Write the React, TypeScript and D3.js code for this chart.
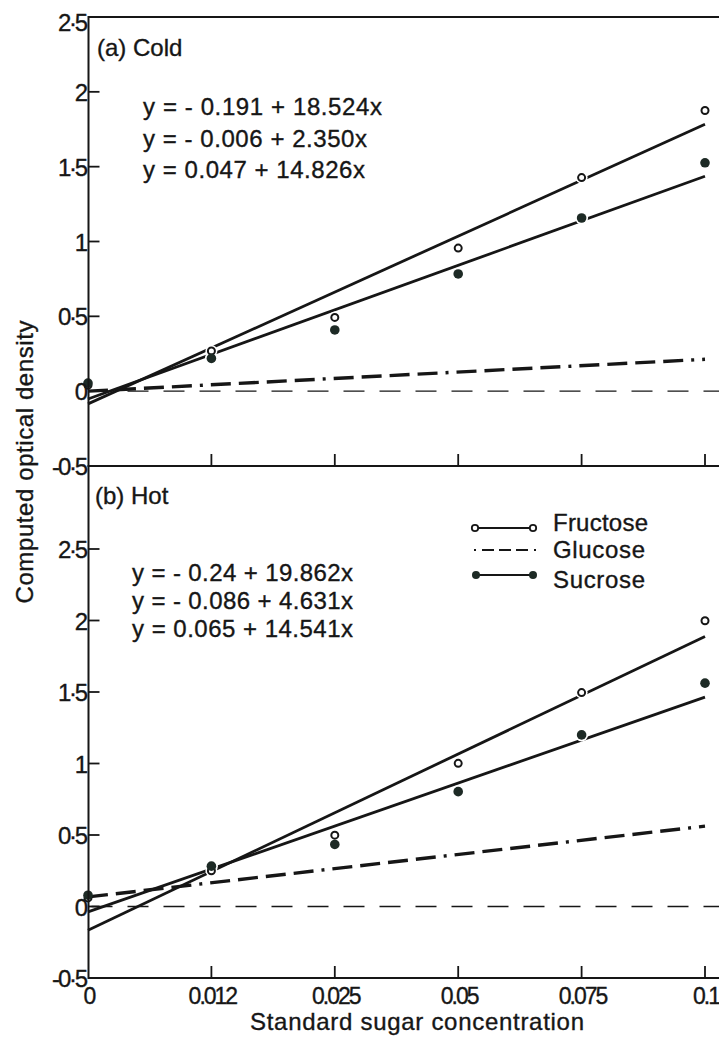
import React from "react";
import * as d3 from "d3";

// ---------- data ----------
const concentrations = ["0", "0.012", "0.025", "0.05", "0.075", "0.1"];
const xTickLabels = ["0", "0.012", "0.025", "0.05", "0.075", "0.1"];
const yTicks = [-0.5, 0, 0.5, 1, 1.5, 2, 2.5];
const yTickLabels = ["-0·5", "0", "0·5", "1", "1·5", "2", "2·5"];

// observed points (computed optical density)
const coldFructose = [0.04, 0.268, 0.493, 0.956, 1.427, 1.875];
const coldSucrose = [0.054, 0.219, 0.409, 0.783, 1.157, 1.526];
const hotFructose = [0.06, 0.25, 0.499, 1.001, 1.496, 1.998];
const hotSucrose = [0.079, 0.282, 0.434, 0.803, 1.2, 1.562];

// fitted lines: value at first and last concentration
const coldFructoseFit = [-0.085, 1.783];
const coldSucroseFit = [-0.052, 1.436];
const coldGlucoseFit = [0.0, 0.213];
const hotFructoseFit = [-0.166, 1.888];
const hotSucroseFit = [-0.038, 1.464];
const hotGlucoseFit = [0.067, 0.562];

const coldEquations = ["y = - 0.191 + 18.524x", "y = - 0.006 + 2.350x", "y = 0.047 + 14.826x"];
const hotEquations = ["y = - 0.24 + 19.862x", "y = - 0.086 + 4.631x", "y = 0.065 + 14.541x"];

const legendItems = ["Fructose", "Glucose", "Sucrose"];

// ---------- layout ----------
const W = 719;
const H = 1037;
const FONT = "'Liberation Sans', Arial, Helvetica, sans-serif";
const INK = "#161616";
const DOT = "#1d2a25";
const AXIS_X = 88.5;
const EDGE = 719;
const FS = 24;
const TXT_STROKE = 0.35;

const x = d3.scalePoint<string>().domain(concentrations).range([88, 705]);

const panels = [
  {
    label: "(a) Cold",
    labelPos: [97, 56],
    top: 17,
    y: d3.scaleLinear().domain([-0.5, 2.5]).range([466, 17]),
    fructose: coldFructose,
    sucrose: coldSucrose,
    fFit: coldFructoseFit,
    sFit: coldSucroseFit,
    gFit: coldGlucoseFit,
    eq: coldEquations,
    eqX: 143,
    eqY: [115, 146.5, 178],
    eqLen: [239, 224, 222],
    border: true,
  },
  {
    label: "(b) Hot",
    labelPos: [95, 504],
    top: 466,
    y: d3.scaleLinear().domain([-0.5, 2.5]).range([978, 549]),
    fructose: hotFructose,
    sucrose: hotSucrose,
    fFit: hotFructoseFit,
    sFit: hotSucroseFit,
    gFit: hotGlucoseFit,
    eq: hotEquations,
    eqX: 132,
    eqY: [581, 609, 637],
    eqLen: [221, 221, 221],
    border: false,
  },
];

const GLUCOSE_DASH = "20,8,20,8,20,8,20,8,3,8";

function fitLine(y: d3.ScaleLinear<number, number>, fit: number[]) {
  const pts: [number, number][] = [
    [x(concentrations[0])!, y(fit[0])],
    [x(concentrations[concentrations.length - 1])!, y(fit[1])],
  ];
  return d3.line()(pts) || "";
}

const textProps = { fill: INK, stroke: INK, strokeWidth: TXT_STROKE };

export default function App() {
  return (
    <svg
      width={W}
      height={H}
      viewBox={`0 0 ${W} ${H}`}
      style={{ position: "absolute", left: 0, top: 0, background: "#fff" }}
      fontFamily={FONT}
    >
      <rect x={0} y={0} width={W} height={H} fill="#fff" />
      {panels.map((p, pi) => {
        const y = p.y;
        const bottom = y(-0.5);
        return (
          <g key={pi}>
            <line
              x1={AXIS_X + 3}
              x2={EDGE}
              y1={y(0)}
              y2={y(0)}
              stroke={INK}
              strokeWidth={1.3}
              strokeDasharray="21,15"
            />
            <path d={fitLine(y, p.gFit)} stroke={INK} strokeWidth={3.4} fill="none" strokeDasharray={GLUCOSE_DASH} />
            <path d={fitLine(y, p.fFit)} stroke={INK} strokeWidth={2.8} fill="none" />
            <path d={fitLine(y, p.sFit)} stroke={INK} strokeWidth={2.8} fill="none" />
            {concentrations.map((c, i) =>
              i === 0 ? null : (
                <g key={"h" + i}>
                  <circle cx={x(c)!} cy={y(p.fructose[i])} r={6} fill="#fff" />
                  <circle cx={x(c)!} cy={y(p.sucrose[i])} r={6.5} fill="#fff" />
                </g>
              )
            )}
            {concentrations.map((c, i) => (
              <circle key={"f" + i} cx={x(c)!} cy={y(p.fructose[i])} r={3.5} fill="#fff" stroke={INK} strokeWidth={2} />
            ))}
            {concentrations.map((c, i) => (
              <circle key={"s" + i} cx={x(c)!} cy={y(p.sucrose[i])} r={4.8} fill={DOT} />
            ))}

            <line x1={AXIS_X} x2={EDGE} y1={bottom} y2={bottom} stroke={INK} strokeWidth={2} />
            {p.border && <line x1={AXIS_X} x2={EDGE} y1={p.top} y2={p.top} stroke={INK} strokeWidth={2} />}
            <line x1={AXIS_X} x2={AXIS_X} y1={p.top - 1} y2={bottom + 1} stroke={INK} strokeWidth={2} />
            {concentrations.slice(1).map((c) => (
              <line key={"xt" + c} x1={x(c)!} x2={x(c)!} y1={bottom} y2={bottom - 12} stroke={INK} strokeWidth={1.8} />
            ))}
            {yTicks.map((t, i) => (
              <g key={"yt" + i}>
                {t > -0.5 && !(pi === 0 && t === 2.5) && (
                  <line x1={AXIS_X} x2={AXIS_X + 11} y1={y(t)} y2={y(t)} stroke={INK} strokeWidth={1.8} />
                )}
                <text
                  x={86}
                  y={y(t) + (pi === 0 && t === 2.5 ? 14 : 9)}
                  textAnchor="end"
                  fontSize={FS}
                  letterSpacing={-2.2}
                  {...textProps}
                >
                  {yTickLabels[i]}
                </text>
              </g>
            ))}

            <text x={p.labelPos[0]} y={p.labelPos[1]} fontSize={FS} {...textProps}>
              {p.label}
            </text>
            {p.eq.map((e, i) => (
              <text
                key={"eq" + i}
                x={p.eqX}
                y={p.eqY[i]}
                fontSize={FS}
                textLength={p.eqLen[i]}
                lengthAdjust="spacing"
                {...textProps}
              >
                {e}
              </text>
            ))}
          </g>
        );
      })}

      {concentrations.map((c, i) => (
        <text key={"xl" + i} x={x(c)! + 1} y={1004} textAnchor="middle" fontSize={23} letterSpacing={-2} {...textProps}>
          {xTickLabels[i]}
        </text>
      ))}

      <text x={417} y={1030} textAnchor="middle" fontSize={FS} textLength={334} lengthAdjust="spacing" {...textProps}>
        Standard sugar concentration
      </text>
      <text
        transform="translate(33,462) rotate(-90)"
        textAnchor="middle"
        fontSize={FS}
        textLength={283}
        lengthAdjust="spacing"
        {...textProps}
      >
        Computed optical density
      </text>

      <g>
        <line x1={478} x2={530} y1={528} y2={528} stroke={INK} strokeWidth={2.2} />
        <circle cx={475} cy={528} r={3.2} fill="#fff" stroke={INK} strokeWidth={1.8} />
        <circle cx={533} cy={528} r={3.2} fill="#fff" stroke={INK} strokeWidth={1.8} />
        <line x1={474} x2={536} y1={550} y2={550} stroke={INK} strokeWidth={2.2} strokeDasharray="2,6,12,5,12,5,12,6,2" />
        <line x1={478} x2={530} y1={575} y2={575} stroke={INK} strokeWidth={2.2} />
        <circle cx={476} cy={575} r={4} fill={DOT} />
        <circle cx={533} cy={575} r={4} fill={DOT} />
        {legendItems.map((t, i) => (
          <text
            key={t}
            x={553}
            y={[531, 558, 588][i]}
            fontSize={FS}
            textLength={[95, 92, 92][i]}
            lengthAdjust="spacing"
            {...textProps}
          >
            {t}
          </text>
        ))}
      </g>
    </svg>
  );
}
